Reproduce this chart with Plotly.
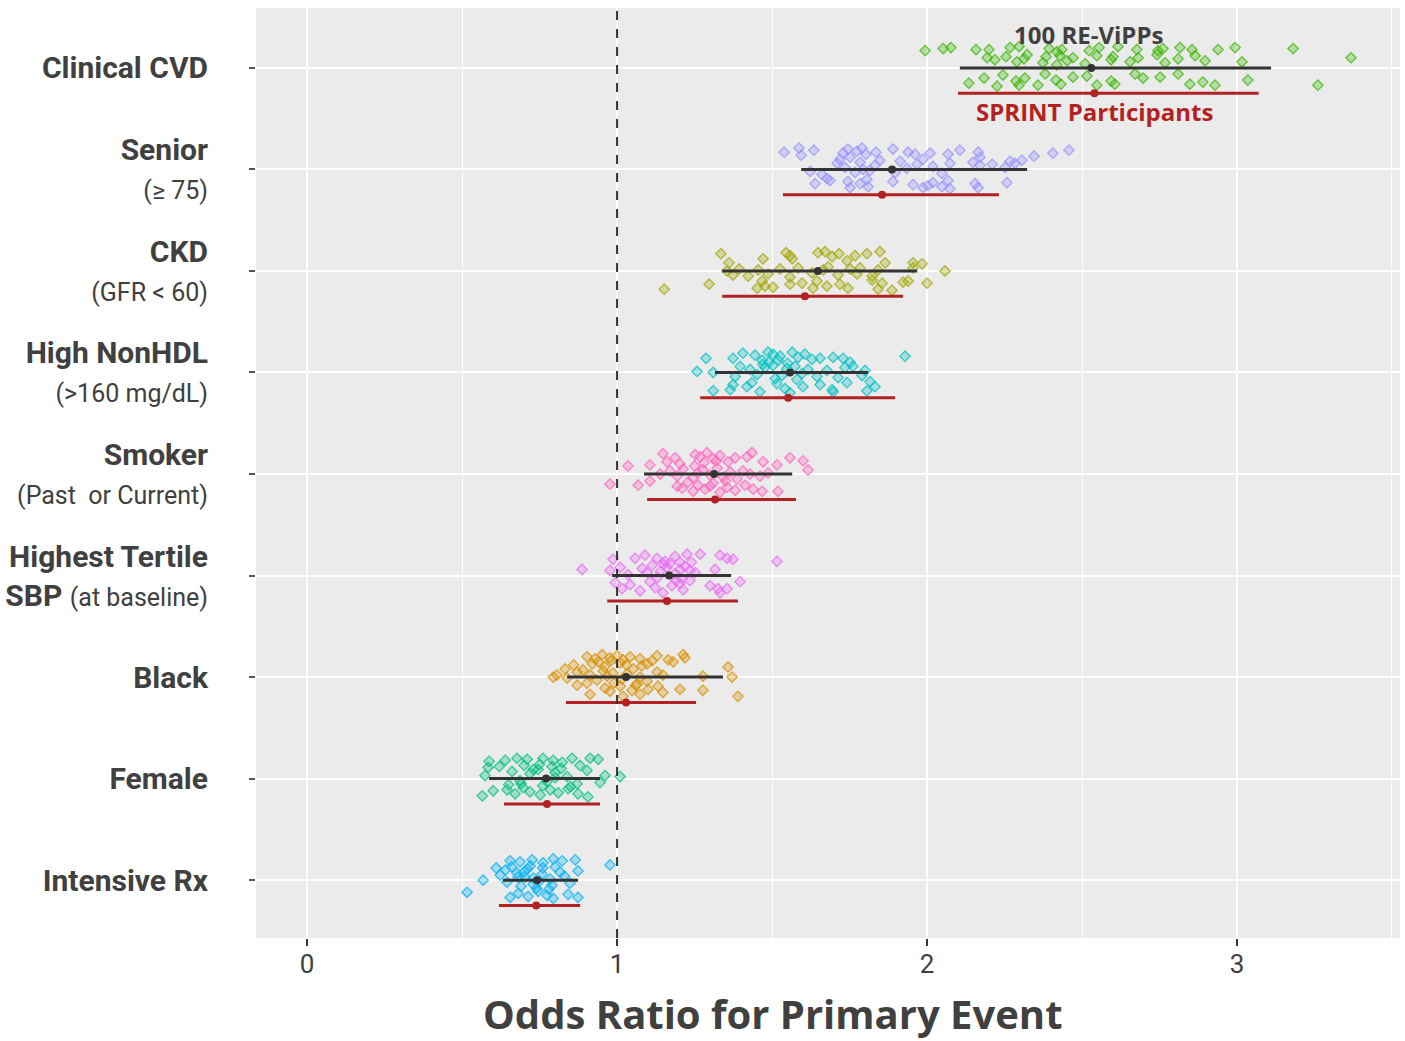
import plotly.graph_objects as go

# ---------------- data ----------------
categories = ["Intensive Rx", "Female", "Black", "Highest Tertile SBP", "Smoker",
              "High NonHDL", "CKD", "Senior", "Clinical CVD"]
tick_labels = [
    "<b>Intensive Rx</b>",
    "<b>Female</b>",
    "<b>Black</b>",
    "<b>Highest Tertile</b><br><b>SBP</b> <span style='font-size:25px'>(at baseline)</span>",
    "<b>Smoker</b><br><span style='font-size:25px'>(Past  or Current)</span>",
    "<b>High NonHDL</b><br><span style='font-size:25px'>(>160 mg/dL)</span>",
    "<b>CKD</b><br><span style='font-size:25px'>(GFR < 60)</span>",
    "<b>Senior</b><br><span style='font-size:25px'>(≥ 75)</span>",
    "<b>Clinical CVD</b>",
]
colors = ["#00B0F6", "#00BF7D", "#D89000", "#E76BF3", "#FF62BC",
          "#00BFC4", "#A3A500", "#9590FF", "#39B600"]

# RE-ViPPs summary (mean, low, high) and SPRINT participants (mean, low, high)
vipp_mean = [0.742, 0.771, 1.029, 1.168, 1.313, 1.558, 1.648, 1.887, 2.530]
vipp_low  = [0.632, 0.587, 0.839, 0.984, 1.087, 1.316, 1.339, 1.594, 2.106]
vipp_high = [0.874, 0.945, 1.342, 1.368, 1.565, 1.810, 1.968, 2.323, 3.110]
sprint_mean = [0.739, 0.774, 1.029, 1.161, 1.316, 1.552, 1.606, 1.855, 2.540]
sprint_low  = [0.619, 0.635, 0.835, 0.968, 1.097, 1.268, 1.339, 1.535, 2.100]
sprint_high = [0.881, 0.945, 1.255, 1.390, 1.577, 1.897, 1.923, 2.232, 3.070]

# individual RE-ViPP odds ratios (x) and their vertical jitter (dy)
intensive_x = [0.655, 0.687, 0.726, 0.761, 0.794, 0.823, 0.865, 0.977,
               0.568, 0.623, 0.645, 0.677, 0.703, 0.729, 0.758, 0.784, 0.816, 0.848, 0.874,
               0.516, 0.655, 0.681, 0.713, 0.745, 0.774, 0.794, 0.842, 0.874,
               0.61, 0.64, 0.66, 0.69, 0.71, 0.72, 0.74, 0.76, 0.78, 0.80, 0.83, 0.70, 0.73, 0.68, 0.75, 0.79]
intensive_dy = [0.19, 0.18, 0.20, 0.17, 0.21, 0.19, 0.20, 0.15,
                0.0, 0.05, -0.02, 0.07, 0.03, -0.04, 0.06, 0.01, 0.08, -0.03, 0.09,
                -0.12, -0.17, -0.13, -0.16, -0.11, -0.15, -0.18, -0.14, -0.17,
                0.12, 0.10, 0.13, -0.06, 0.11, 0.14, -0.08, 0.12, -0.09, 0.13, 0.04, 0.08, 0.02, 0.03, -0.01, -0.05]

female_x = [0.587, 0.639, 0.677, 0.710, 0.761, 0.794, 0.823, 0.855, 0.913, 0.939,
            0.574, 0.584, 0.661, 0.687, 0.719, 0.745, 0.774, 0.800, 0.839, 0.871, 0.903, 0.945, 0.961, 1.010,
            0.565, 0.600, 0.645, 0.671, 0.697, 0.719, 0.752, 0.784, 0.810, 0.842, 0.874, 0.906,
            0.62, 0.65, 0.70, 0.73, 0.76, 0.79, 0.82, 0.85, 0.88, 0.69, 0.75, 0.80]
female_dy = [0.17, 0.18, 0.20, 0.19, 0.20, 0.18, 0.16, 0.20, 0.20, 0.19,
             0.03, 0.11, 0.07, -0.02, 0.05, 0.09, -0.03, 0.06, 0.02, -0.05, 0.08, -0.04, 0.03, 0.02,
             -0.17, -0.12, -0.11, -0.15, -0.09, -0.13, -0.16, -0.11, -0.14, -0.10, -0.15, -0.18,
             0.12, -0.06, 0.13, 0.09, -0.07, 0.12, 0.10, -0.08, 0.13, -0.05, 0.14, 0.01]

black_x = [0.903, 0.929, 0.952, 0.977, 1.000, 1.019, 1.042, 1.074, 1.097, 1.113, 1.129, 1.165, 1.181, 1.213, 1.219,
           0.794, 0.806, 0.832, 0.839, 0.871, 0.890, 0.913, 0.935, 0.955, 0.968, 0.987, 1.016, 1.032, 1.052,
           1.074, 1.097, 1.129, 1.148, 1.277, 1.358, 1.371,
           0.871, 0.903, 0.913, 0.961, 0.977, 1.010, 1.019, 1.048, 1.065, 1.074, 1.100, 1.132, 1.148, 1.203, 1.277, 1.390,
           0.86, 0.92, 0.96, 0.99, 1.03, 1.06, 0.94, 1.01, 1.08, 0.98]
black_dy = [0.20, 0.18, 0.22, 0.19, 0.21, 0.17, 0.20, 0.18, 0.13, 0.16, 0.21, 0.17, 0.15, 0.22, 0.19,
            0.00, 0.02, 0.08, -0.01, 0.05, 0.07, 0.02, -0.03, 0.06, 0.01, 0.04, -0.02, 0.03, 0.08,
            0.00, -0.04, 0.05, 0.02, 0.01, 0.10, 0.00,
            -0.08, -0.06, -0.17, -0.11, -0.14, -0.09, -0.19, -0.13, -0.07, -0.17, -0.12, -0.09, -0.15, -0.12, -0.13, -0.19,
            0.12, 0.13, 0.10, -0.06, 0.12, -0.08, 0.15, 0.14, 0.11, 0.16]

sbp_x = [0.987, 1.058, 1.090, 1.129, 1.155, 1.187, 1.203, 1.226, 1.268, 1.332, 1.355, 1.374, 1.516,
         0.887, 0.977, 1.010, 1.035, 1.081, 1.097, 1.113, 1.139, 1.161, 1.187, 1.203, 1.219, 1.235, 1.252, 1.316,
         0.994, 1.016, 1.042, 1.074, 1.106, 1.123, 1.148, 1.177, 1.203, 1.213, 1.235, 1.300, 1.332, 1.355, 1.397, 1.326,
         1.13, 1.17, 1.21, 1.15, 1.19, 1.24]
sbp_dy = [0.16, 0.17, 0.20, 0.17, 0.14, 0.19, 0.13, 0.21, 0.21, 0.20, 0.17, 0.16, 0.14,
          0.06, 0.05, 0.08, 0.01, 0.07, 0.03, 0.10, 0.04, 0.08, 0.02, 0.06, 0.09, 0.05, 0.03, 0.06,
          -0.07, -0.13, -0.09, -0.15, -0.06, -0.12, -0.17, -0.10, -0.08, -0.14, -0.05, -0.10, -0.17, -0.13, -0.06, -0.13,
          -0.02, 0.12, -0.03, 0.11, -0.05, 0.13]

smoker_x = [1.035, 1.106, 1.148, 1.161, 1.187, 1.203, 1.252, 1.268, 1.290, 1.310, 1.332, 1.358, 1.381, 1.419,
            1.435, 1.471, 1.516, 1.558, 1.600, 1.616,
            1.139, 1.171, 1.194, 1.213, 1.245, 1.261, 1.277, 1.300, 1.323, 1.342, 1.365, 1.387, 1.406, 1.429, 1.461, 1.487,
            0.977, 1.068, 1.106, 1.194, 1.210, 1.229, 1.245, 1.261, 1.284, 1.310, 1.332, 1.355, 1.381, 1.413, 1.439, 1.468, 1.519,
            1.28, 1.32, 1.35, 1.30, 1.25]
smoker_dy = [0.08, 0.09, 0.20, 0.12, 0.16, 0.10, 0.19, 0.17, 0.21, 0.15, 0.18, 0.12, 0.16, 0.17,
             0.21, 0.12, 0.09, 0.16, 0.13, 0.04,
             0.0, 0.03, -0.02, 0.05, -0.04, 0.01, 0.04, -0.01, 0.06, -0.03, 0.02, -0.05, 0.03, 0.0, -0.02, 0.01,
             -0.10, -0.11, -0.07, -0.12, -0.14, -0.08, -0.17, -0.11, -0.15, -0.09, -0.18, -0.13, -0.16, -0.11, -0.15, -0.17, -0.17,
             0.11, 0.13, -0.07, -0.12, 0.08]

nonhdl_x = [1.287, 1.374, 1.406, 1.445, 1.468, 1.487, 1.503, 1.526, 1.565, 1.584, 1.606, 1.629, 1.655, 1.697,
            1.729, 1.752, 1.929,
            1.258, 1.310, 1.381, 1.397, 1.429, 1.452, 1.477, 1.503, 1.532, 1.548, 1.574, 1.597, 1.616, 1.645,
            1.677, 1.713, 1.735, 1.761, 1.790, 1.800,
            1.310, 1.365, 1.374, 1.419, 1.435, 1.461, 1.516, 1.542, 1.558, 1.600, 1.655, 1.694, 1.697, 1.742,
            1.806, 1.816, 1.832,
            1.49, 1.52, 1.55, 1.58, 1.51, 1.47]
nonhdl_dy = [0.14, 0.14, 0.19, 0.17, 0.12, 0.20, 0.18, 0.16, 0.20, 0.15, 0.18, 0.13, 0.14, 0.15,
             0.14, 0.10, 0.16,
             0.01, 0.00, -0.04, 0.06, 0.03, -0.02, 0.05, 0.07, -0.03, 0.04, 0.06, -0.01, 0.03, -0.04,
             0.02, -0.05, 0.05, 0.06, -0.03, 0.02,
             -0.18, -0.17, -0.12, -0.14, -0.10, -0.19, -0.11, -0.16, -0.20, -0.14, -0.12, -0.17, -0.19, -0.10,
             -0.18, -0.09, -0.14,
             0.10, 0.12, 0.09, -0.07, -0.06, 0.08]

ckd_x = [1.335, 1.361, 1.471, 1.545, 1.558, 1.565, 1.648, 1.671, 1.694, 1.716, 1.742, 1.768, 1.806, 1.848,
         1.865, 1.955, 1.984,
         1.355, 1.374, 1.394, 1.423, 1.455, 1.487, 1.526, 1.558, 1.584, 1.629, 1.665, 1.681, 1.713, 1.752,
         1.774, 1.784, 1.823, 1.842, 1.955, 2.058,
         1.297, 1.452, 1.468, 1.477, 1.503, 1.558, 1.597, 1.632, 1.645, 1.677, 1.719, 1.745, 1.823, 1.842,
         1.855, 1.887, 1.923, 1.939, 2.000, 1.152]
ckd_dy = [0.17, 0.08, 0.12, 0.18, 0.15, 0.12, 0.18, 0.19, 0.14, 0.17, 0.10, 0.15, 0.17, 0.19,
          0.08, 0.08, 0.07,
          0.0, -0.04, 0.02, -0.05, 0.01, -0.03, 0.02, -0.06, 0.03, -0.02, 0.01, 0.04, -0.04, 0.02,
          -0.03, 0.03, -0.05, 0.01, 0.03, 0.0,
          -0.13, -0.17, -0.10, -0.15, -0.16, -0.13, -0.12, -0.17, -0.10, -0.15, -0.13, -0.17, -0.09, -0.18,
          -0.12, -0.19, -0.11, -0.10, -0.12, -0.18]

senior_x = [1.539, 1.587, 1.635, 1.594, 1.729, 1.745, 1.774, 1.790, 1.803, 1.835, 1.890, 1.939, 1.961, 2.010,
            2.068, 2.106, 2.165, 2.171, 2.306, 2.345, 2.406, 2.458,
            1.623, 1.661, 1.710, 1.719, 1.735, 1.752, 1.768, 1.784, 1.794, 1.816, 1.832, 1.848, 1.897, 1.913,
            1.935, 1.968, 1.987, 2.019, 2.048, 2.074, 2.148, 2.171, 2.210, 2.252, 2.268, 2.284,
            1.639, 1.677, 1.687, 1.745, 1.752, 1.784, 1.806, 1.810, 1.890, 1.955, 1.987, 2.003, 2.019, 2.048,
            2.068, 2.074, 2.155, 2.165, 2.258]
senior_dy = [0.17, 0.21, 0.19, 0.14, 0.16, 0.20, 0.18, 0.21, 0.15, 0.17, 0.20, 0.17, 0.15, 0.16,
             0.15, 0.19, 0.17, 0.12, 0.09, 0.13, 0.16, 0.19,
             -0.02, -0.05, 0.06, 0.10, 0.02, 0.12, -0.03, 0.07, 0.00, -0.01, 0.04, 0.09, -0.03, 0.08,
             0.01, 0.05, 0.10, 0.03, -0.04, 0.06, 0.07, 0.04, 0.05, 0.02, 0.08, 0.06,
             -0.14, -0.09, -0.11, -0.12, -0.18, -0.14, -0.10, -0.17, -0.12, -0.15, -0.18, -0.16, -0.13, -0.17,
             -0.11, -0.19, -0.14, -0.18, -0.13]

cvd_x = [1.994, 2.052, 2.077, 2.158, 2.200, 2.268, 2.297, 2.394, 2.435, 2.419, 2.523, 2.555, 2.616, 2.677,
         2.745, 2.761, 2.816, 2.855, 2.939, 2.994, 3.181,
         2.194, 2.219, 2.255, 2.290, 2.313, 2.323, 2.374, 2.384, 2.419, 2.429, 2.452, 2.471, 2.510, 2.548,
         2.594, 2.600, 2.655, 2.681, 2.742, 2.768, 2.810, 2.865, 2.897, 3.016, 3.368,
         2.135, 2.184, 2.226, 2.245, 2.287, 2.297, 2.316, 2.358, 2.381, 2.416, 2.432, 2.471, 2.516, 2.548,
         2.594, 2.606, 2.671, 2.697, 2.752, 2.810, 2.848, 2.890, 2.929, 3.035, 3.261]
cvd_dy = [0.17, 0.19, 0.20, 0.18, 0.18, 0.20, 0.21, 0.19, 0.18, 0.16, 0.17, 0.20, 0.21, 0.18,
          0.17, 0.19, 0.20, 0.18, 0.18, 0.20, 0.19,
          0.10, 0.08, 0.11, 0.06, 0.09, 0.13, 0.05, 0.11, 0.03, 0.12, 0.07, 0.10, 0.04, 0.12,
          0.08, 0.11, 0.06, 0.10, 0.13, 0.05, 0.09, 0.12, 0.07, 0.06, 0.10,
          -0.15, -0.10, -0.18, -0.07, -0.13, -0.17, -0.10, -0.17, -0.06, -0.12, -0.16, -0.09, -0.08, -0.17,
          -0.13, -0.16, -0.06, -0.10, -0.09, -0.06, -0.16, -0.14, -0.17, -0.12, -0.17]

points_x = [intensive_x, female_x, black_x, sbp_x, smoker_x, nonhdl_x, ckd_x, senior_x, cvd_x]
points_dy = [intensive_dy, female_dy, black_dy, sbp_dy, smoker_dy, nonhdl_dy, ckd_dy, senior_dy, cvd_dy]

SPRINT_OFFSET = -0.25
FONT = "Roboto, Liberation Sans Narrow, sans-serif"
TITLE_FONT = "Open Sans, sans-serif"


def rgba(hex_color, a):
    h = hex_color.lstrip("#")
    r, g, b = int(h[0:2], 16), int(h[2:4], 16), int(h[4:6], 16)
    return f"rgba({r},{g},{b},{a})"


fig = go.Figure()

for i, cat in enumerate(categories):
    ypos = i + 1
    fig.add_trace(go.Scatter(
        x=points_x[i], y=[ypos + d for d in points_dy[i]], mode="markers",
        marker=dict(symbol="diamond", size=8, color=rgba(colors[i], 0.3),
                    line=dict(color=rgba(colors[i], 0.75), width=1.3)),
        showlegend=False, hoverinfo="x"))

for i, cat in enumerate(categories):
    ypos = i + 1
    # RE-ViPPs interval
    fig.add_trace(go.Scatter(
        x=[vipp_low[i], vipp_high[i]], y=[ypos, ypos], mode="lines",
        line=dict(color="#333333", width=3), showlegend=False, hoverinfo="skip"))
    fig.add_trace(go.Scatter(
        x=[vipp_mean[i]], y=[ypos], mode="markers",
        marker=dict(color="#333333", size=8), showlegend=False))
    # SPRINT interval
    fig.add_trace(go.Scatter(
        x=[sprint_low[i], sprint_high[i]], y=[ypos + SPRINT_OFFSET] * 2, mode="lines",
        line=dict(color="#B22222", width=3), showlegend=False, hoverinfo="skip"))
    fig.add_trace(go.Scatter(
        x=[sprint_mean[i]], y=[ypos + SPRINT_OFFSET], mode="markers",
        marker=dict(color="#B22222", size=8), showlegend=False))

fig.add_shape(type="line", x0=1, x1=1, y0=0, y1=1, yref="paper",
              line=dict(color="#333333", width=2, dash="dash"), layer="above")

fig.add_annotation(x=2.52, y=9.33, text="<b>100 RE-ViPPs</b>", showarrow=False,
                   font=dict(family=TITLE_FONT, size=24, color="#404040"))
fig.add_annotation(x=2.54, y=8.57, text="<b>SPRINT Participants</b>", showarrow=False,
                   font=dict(family=TITLE_FONT, size=24, color="#B22222"))
# x-axis title (sits slightly left of the panel centre in the original)
fig.add_annotation(x=0.452, y=-0.0815, xref="paper", yref="paper", yanchor="middle",
                   text="<b>Odds Ratio for Primary Event</b>", showarrow=False,
                   font=dict(family=TITLE_FONT, size=40, color="#404040"))

fig.update_layout(
    width=1405, height=1041,
    margin=dict(l=256, r=5, t=8, b=103),
    paper_bgcolor="white", plot_bgcolor="#EBEBEB",
    font=dict(family=FONT, color="#404040"),
    xaxis=dict(range=[-0.165, 3.526], tickvals=[0, 1, 2, 3], ticktext=["0", "1", "2", "3"],
               showgrid=True, gridcolor="white", gridwidth=2,
               minor=dict(tickvals=[0.5, 1.5, 2.5, 3.5], showgrid=True, gridcolor="white", gridwidth=1),
               zeroline=False, ticks="outside", ticklen=7, tickcolor="#333333", tickwidth=1.5,
               automargin=False, ticklabelstandoff=-4,
               tickfont=dict(size=26, color="#404040", family=FONT)),
    yaxis=dict(range=[0.43, 9.59], tickvals=list(range(1, 10)), ticktext=tick_labels,
               showgrid=True, gridcolor="white", gridwidth=2, zeroline=False,
               ticks="outside", ticklen=6, tickcolor="#555555", tickwidth=1.5,
               ticklabelstandoff=35, automargin=False,
               tickfont=dict(size=30, color="#404040", family=FONT)),
)

fig.write_html("out.html")
